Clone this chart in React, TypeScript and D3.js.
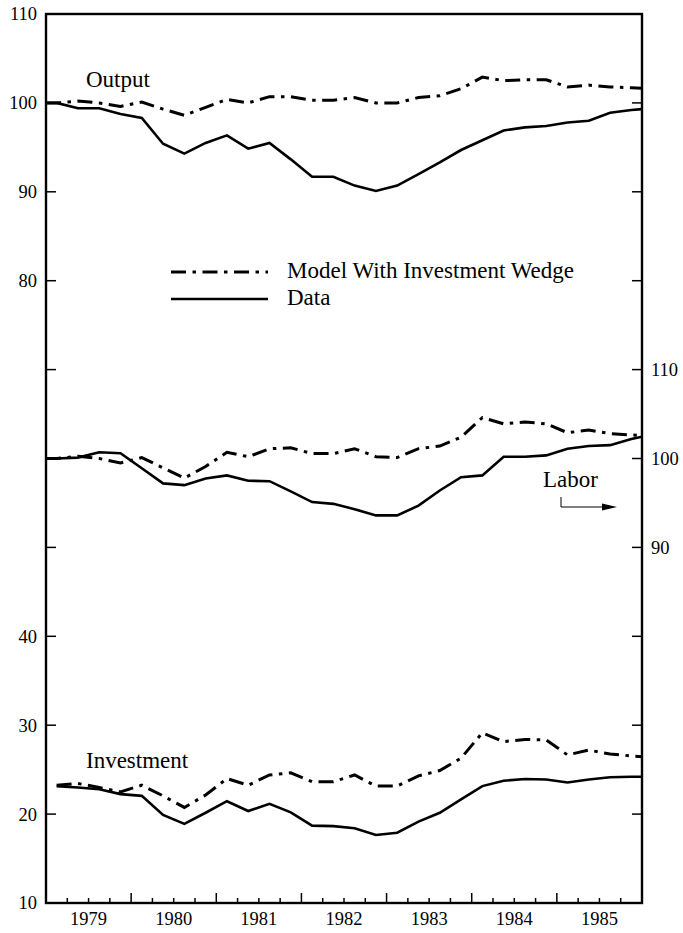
import React from "react";
import * as d3 from "d3";

// ---- data (quarterly, 1979Q1 .. 1985Q4) ----
const startYear = 1979;
const endYear = 1986;
const yearLabels = ["1979", "1980", "1981", "1982", "1983", "1984", "1985"];
const leftTicks = [10, 20, 30, 40, 50, 60, 70, 80, 90, 100, 110];
const leftLabelled = [10, 20, 30, 40, 80, 90, 100, 110];
const rightTicks = [50, 60, 70, 80, 90, 100, 110, 120, 130, 140, 150];
const rightLabelled = [90, 100, 110];

const outputData = [100.0, 99.4, 99.4, 98.75, 98.3, 95.4, 94.3, 95.5, 96.35, 94.85, 95.5, 93.65, 91.7, 91.7, 90.7, 90.1, 90.7, 92.0, 93.3, 94.7, 95.8, 96.9, 97.25, 97.4, 97.8, 98.0, 98.9, 99.2];
const outputModel = [100.0, 100.2, 100.0, 99.6, 100.1, 99.3, 98.6, 99.5, 100.4, 100.0, 100.7, 100.7, 100.3, 100.3, 100.6, 100.0, 100.0, 100.6, 100.8, 101.6, 102.9, 102.5, 102.6, 102.6, 101.8, 102.0, 101.8, 101.7];
const laborData = [100.0, 100.1, 100.7, 100.6, 98.9, 97.2, 97.0, 97.75, 98.1, 97.5, 97.45, 96.3, 95.1, 94.9, 94.3, 93.6, 93.6, 94.7, 96.4, 97.9, 98.1, 100.2, 100.2, 100.35, 101.1, 101.4, 101.5, 102.2];
const laborModel = [100.0, 100.25, 100.0, 99.5, 100.1, 98.95, 97.8, 99.1, 100.7, 100.2, 101.1, 101.2, 100.55, 100.55, 101.1, 100.2, 100.1, 101.1, 101.4, 102.4, 104.6, 103.9, 104.1, 103.9, 102.9, 103.2, 102.8, 102.65];
const investmentData = [23.15, 23.0, 22.8, 22.25, 22.05, 19.9, 18.9, 20.15, 21.45, 20.35, 21.15, 20.2, 18.7, 18.65, 18.4, 17.65, 17.9, 19.15, 20.15, 21.65, 23.15, 23.75, 23.95, 23.9, 23.55, 23.9, 24.15, 24.2];
const investmentModel = [23.25, 23.45, 23.0, 22.5, 23.25, 22.05, 20.75, 22.15, 24.0, 23.25, 24.4, 24.65, 23.65, 23.65, 24.4, 23.15, 23.15, 24.3, 24.9, 26.3, 29.15, 28.15, 28.4, 28.35, 26.65, 27.2, 26.75, 26.55];

// values where the lines meet the frame edges (null = line does not reach edge)
const outputDataEdges = [100.0, 99.3];
const outputModelEdges = [100.0, 101.64];
const laborDataEdges = [100.0, 102.45];
const laborModelEdges = [100.0, 102.6];
const investmentDataEdges = [null, 24.2];
const investmentModelEdges = [null, 26.46];

const W = 683;
const H = 933;
const M = { left: 46, right: 642, top: 14, bottom: 903 };

const FONT = "'Liberation Serif', 'Times New Roman', serif";

export default function App() {
  const x = d3.scaleLinear().domain([startYear, endYear]).range([M.left, M.right]);
  const yL = d3.scaleLinear().domain([10, 110]).range([M.bottom, M.top]);
  const yR = d3.scaleLinear().domain([50, 150]).range([M.bottom, M.top]);

  const build = (vals: number[], edges: (number | null)[]) => {
    const pts: [number, number][] = vals.map((v, i) => [startYear + (i + 0.5) / 4, v]);
    if (edges[0] != null) pts.unshift([startYear, edges[0] as number]);
    if (edges[1] != null) pts.push([endYear, edges[1] as number]);
    return pts;
  };

  const lineL = d3.line<[number, number]>().x((d) => x(d[0])).y((d) => yL(d[1]));
  const lineR = d3.line<[number, number]>().x((d) => x(d[0])).y((d) => yR(d[1]));

  const dash = "15,6.5,3.5,6.5";
  const solidW = 2.6;
  const dashW = 3;

  const quarterTicks = d3.range(startYear * 4 + 1, endYear * 4).map((q) => q / 4);

  return (
    <svg width={W} height={H} style={{ position: "absolute", left: 0, top: 0, background: "#fff" }}>
      <rect x={0} y={0} width={W} height={H} fill="#fff" />
      {/* lines */}
      <path d={lineL(build(outputModel, outputModelEdges)) || ""} fill="none" stroke="#000" strokeWidth={dashW} strokeDasharray={dash} />
      <path d={lineL(build(outputData, outputDataEdges)) || ""} fill="none" stroke="#000" strokeWidth={solidW} />
      <path d={lineR(build(laborModel, laborModelEdges)) || ""} fill="none" stroke="#000" strokeWidth={dashW} strokeDasharray={dash} />
      <path d={lineR(build(laborData, laborDataEdges)) || ""} fill="none" stroke="#000" strokeWidth={solidW} />
      <path d={lineL(build(investmentModel, investmentModelEdges)) || ""} fill="none" stroke="#000" strokeWidth={dashW} strokeDasharray={dash} />
      <path d={lineL(build(investmentData, investmentDataEdges)) || ""} fill="none" stroke="#000" strokeWidth={solidW} />

      {/* frame */}
      <rect x={M.left} y={M.top} width={M.right - M.left} height={M.bottom - M.top} fill="none" stroke="#000" strokeWidth={2.4} />

      {/* left ticks */}
      {leftTicks.map((t) => (
        <line key={"lt" + t} x1={M.left} x2={M.left + 10} y1={yL(t)} y2={yL(t)} stroke="#000" strokeWidth={1.5} />
      ))}
      {leftLabelled.map((t) => (
        <text key={"ll" + t} x={M.left - 9} y={yL(t)} dy="0.35em" textAnchor="end" fontFamily={FONT} fontSize={18.5}>
          {t}
        </text>
      ))}
      {/* right ticks */}
      {rightTicks.map((t) => (
        <line key={"rt" + t} x1={M.right - 10} x2={M.right} y1={yR(t)} y2={yR(t)} stroke="#000" strokeWidth={1.5} />
      ))}
      {rightLabelled.map((t) => (
        <text key={"rl" + t} x={M.right + 9} y={yR(t)} dy="0.35em" textAnchor="start" fontFamily={FONT} fontSize={18.5}>
          {t}
        </text>
      ))}
      {/* x ticks */}
      {quarterTicks.map((q) => {
        const major = Math.abs(q - Math.round(q)) < 1e-6;
        return (
          <line key={"xt" + q} x1={x(q)} x2={x(q)} y1={M.bottom} y2={M.bottom - (major ? 10 : 5)} stroke="#000" strokeWidth={1.5} />
        );
      })}
      {yearLabels.map((lab, i) => (
        <text key={lab} x={x(startYear + i + 0.5)} y={925} textAnchor="middle" fontFamily={FONT} fontSize={18.5}>
          {lab}
        </text>
      ))}

      {/* series labels */}
      <text x={86} y={87} fontFamily={FONT} fontSize={23}>Output</text>
      <text x={86} y={768} fontFamily={FONT} fontSize={23}>Investment</text>
      <text x={543} y={487} fontFamily={FONT} fontSize={23}>Labor</text>
      <path d="M561,497 L561,507 L605,507" fill="none" stroke="#000" strokeWidth={1} />
      <path d="M617,507 L602,503.5 L602,510.5 Z" fill="#000" />

      {/* legend */}
      <line x1={171} x2={268} y1={272} y2={272} stroke="#000" strokeWidth={dashW} strokeDasharray={dash} />
      <line x1={171} x2={268} y1={299} y2={299} stroke="#000" strokeWidth={solidW} />
      <text x={287} y={278} fontFamily={FONT} fontSize={23}>Model With Investment Wedge</text>
      <text x={287} y={305} fontFamily={FONT} fontSize={23}>Data</text>
    </svg>
  );
}
